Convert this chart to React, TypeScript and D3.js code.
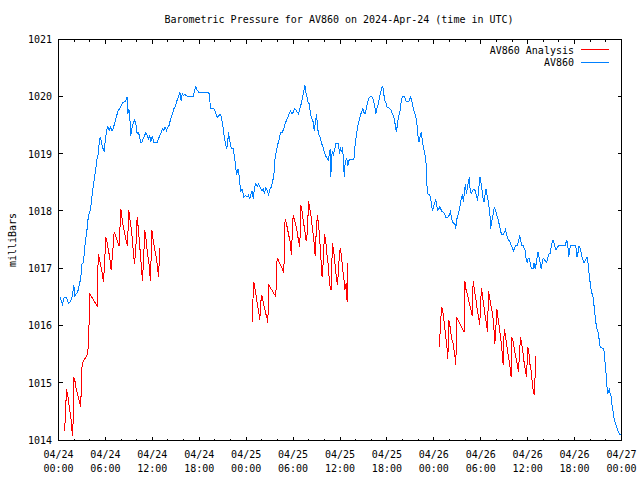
import React from 'react';
import * as d3 from 'd3';

// Hours since 2024-04-24 00:00 UTC, pressure in millibars
const av860: [number, number][] = [
  [0.21,1016.50],[0.51,1016.38],[0.72,1016.49],[1.02,1016.49],[1.28,1016.40],[1.49,1016.42],[1.71,1016.49],[1.88,1016.62],[1.96,1016.71],[2.09,1016.53],[2.26,1016.56],[2.43,1016.59],[2.56,1016.65],[2.73,1016.76],[2.86,1016.85],[2.98,1017.08],[3.20,1017.11],[3.32,1017.32],[3.45,1017.49],[3.62,1017.64],
  [3.75,1017.84],[3.92,1017.96],[4.09,1018.04],[4.22,1018.19],[4.39,1018.39],[4.56,1018.54],[4.73,1018.71],[4.90,1018.89],[5.07,1019.00],[5.20,1019.18],[5.33,1019.29],[5.46,1019.24],[5.58,1019.15],[5.71,1019.09],[5.84,1019.06],[5.92,1019.18],[6.01,1019.24],[6.14,1019.41],[6.31,1019.48],[6.48,1019.41],[6.65,1019.47],[6.82,1019.41],[6.99,1019.44],[7.16,1019.53],[7.33,1019.61],[7.50,1019.70],[7.67,1019.77],[7.84,1019.79],[8.01,1019.85],[8.18,1019.89],[8.35,1019.91],[8.53,1019.92],[8.70,1019.96],[8.78,1020.00],[8.87,1019.70],[9.00,1019.79],[9.12,1019.64],[9.25,1019.32],[9.38,1019.44],[9.55,1019.53],[9.72,1019.59],[9.89,1019.53],[10.06,1019.35],[10.19,1019.38],[10.36,1019.32],[10.48,1019.21],[10.66,1019.21],[10.83,1019.27],[11.00,1019.32],[11.17,1019.38],[11.34,1019.32],[11.51,1019.27],[11.68,1019.32],[11.81,1019.21],[11.98,1019.32],[12.19,1019.21],[12.62,1019.21],[12.79,1019.27],[12.96,1019.32],[13.13,1019.38],[13.30,1019.44],[13.47,1019.41],[13.64,1019.47],[13.81,1019.41],[13.98,1019.47],[14.15,1019.50],[14.24,1019.56],[14.41,1019.64],[14.58,1019.70],[14.75,1019.79],[14.92,1019.83],[15.09,1019.91],[15.22,1019.96],[15.39,1020.02],[15.52,1020.08],[15.69,1019.93],[15.82,1020.06],[15.99,1020.02],[16.16,1020.05],[16.33,1020.02],[16.54,1020.00],[17.22,1020.00],[17.39,1020.11],[17.56,1020.18],[17.73,1020.12],[17.95,1020.08],[19.23,1020.08],[19.36,1019.93],[19.44,1019.79],[19.87,1019.79],[20.08,1019.73],[20.29,1019.64],[20.50,1019.67],[20.67,1019.70],[20.84,1019.64],[20.97,1019.53],[21.10,1019.41],[21.23,1019.27],[21.36,1019.18],[21.48,1019.09],[21.61,1019.15],[21.74,1019.38],[21.87,1019.27],
  [22.00,1019.15],[22.13,1019.09],[22.34,1019.09],[22.51,1018.95],[22.64,1018.80],[22.77,1018.63],[22.94,1018.74],[23.07,1018.66],[23.19,1018.48],[23.32,1018.36],[23.45,1018.39],[23.58,1018.33],[23.71,1018.25],[23.92,1018.28],[24.13,1018.25],[24.30,1018.28],[24.47,1018.22],[24.64,1018.31],[24.77,1018.36],[24.90,1018.22],[25.07,1018.42],[25.24,1018.48],[25.41,1018.43],[25.58,1018.48],[25.75,1018.43],[25.88,1018.39],[26.01,1018.36],[26.18,1018.39],[26.35,1018.31],[26.52,1018.42],[26.69,1018.36],[26.86,1018.29],[27.03,1018.39],[27.20,1018.42],[27.37,1018.51],[27.54,1018.63],[27.67,1018.89],[27.84,1019.03],[28.01,1019.15],[28.18,1019.24],[28.31,1019.32],[28.44,1019.38],[28.61,1019.38],[28.82,1019.44],[28.99,1019.53],[29.16,1019.59],[29.33,1019.64],[29.50,1019.70],[29.67,1019.75],[29.84,1019.70],[30.01,1019.73],[30.18,1019.79],[30.35,1019.77],[30.52,1019.73],[30.70,1019.70],[30.87,1019.79],[30.99,1019.85],[31.12,1019.93],[31.25,1020.02],[31.38,1020.11],[31.51,1020.20],[31.63,1020.08],[31.76,1020.02],[31.89,1019.91],[32.06,1019.88],[32.23,1019.70],[32.40,1019.62],[32.57,1019.56],[32.70,1019.41],[32.87,1019.56],[33.00,1019.70],[33.13,1019.47],[33.25,1019.35],[33.38,1019.32],[33.51,1019.27],[33.64,1019.18],[33.77,1019.15],[33.89,1019.09],[34.02,1019.03],[34.15,1018.97],[34.28,1018.95],[34.40,1018.92],[34.53,1018.89],[34.66,1019.03],[34.75,1019.09],[34.83,1018.60],[34.92,1018.95],[35.04,1019.06],[35.17,1019.00],[35.30,1019.06],[35.47,1019.19],[35.81,1019.19],[35.94,1019.00],[36.07,1019.12],[36.19,1019.03],[36.32,1019.12],[36.45,1018.89],[36.54,1018.60],[36.62,1018.80],[36.75,1018.89],[36.88,1018.92],[37.00,1018.80],[37.13,1018.89],[37.26,1018.90],[37.77,1018.90],[37.90,1019.12],[38.03,1019.27],[38.16,1019.38],[38.28,1019.50],[38.41,1019.56],[38.54,1019.64],[38.67,1019.70],[38.79,1019.75],[38.92,1019.79],[39.05,1019.73],[39.18,1019.70],[39.31,1019.76],[39.43,1019.85],[39.56,1019.92],[39.73,1019.99],[39.90,1020.00],[40.07,1020.00],[40.24,1019.95],[40.37,1019.88],[40.50,1019.79],[40.58,1019.70],[40.71,1019.79],[40.84,1019.85],[40.97,1019.93],[41.10,1020.02],[41.22,1020.08],[41.35,1020.16],[41.48,1020.18],[41.57,1020.08],[41.65,1020.00],[41.78,1019.91],[41.91,1019.88],[42.03,1019.82],[42.20,1019.82],[42.37,1019.79],[42.55,1019.76],[42.72,1019.70],[42.89,1019.64],[43.01,1019.56],[43.10,1019.47],[43.23,1019.38],[43.36,1019.56],[43.48,1019.64],[43.65,1019.73],
  [43.86,1019.96],[43.99,1020.00],[44.24,1020.00],[44.37,1019.96],[44.50,1019.91],[44.75,1019.91],[44.92,1019.96],[45.05,1020.00],[45.18,1019.93],[45.31,1019.85],[45.43,1019.76],[45.61,1019.70],[45.73,1019.62],[45.86,1019.50],[45.99,1019.29],[46.12,1019.21],[46.25,1019.32],[46.37,1019.38],[46.50,1019.27],[46.63,1019.15],[46.76,1019.06],[46.88,1018.97],[47.01,1018.83],[47.10,1018.48],[47.23,1018.31],[47.48,1018.28],[47.61,1018.22],[47.74,1018.07],[47.86,1018.02],[47.99,1018.10],[48.12,1018.16],[48.25,1018.20],[48.38,1018.10],[48.51,1018.02],[48.63,1018.04],[48.76,1018.08],[48.89,1018.04],[49.02,1018.00],[49.19,1017.99],[49.36,1017.96],[49.53,1017.90],[49.78,1017.90],[49.95,1017.93],[50.12,1017.99],[50.25,1017.90],[50.38,1017.81],[50.55,1017.79],[50.72,1017.77],[50.81,1017.70],[50.89,1017.84],[51.02,1017.90],[51.15,1017.96],[51.27,1018.04],[51.40,1018.14],[51.53,1018.24],[51.66,1018.28],[51.79,1018.16],[51.91,1018.36],[52.04,1018.48],[52.17,1018.31],[52.30,1018.42],[52.43,1018.51],[52.56,1018.60],[52.64,1018.38],[52.77,1018.31],[52.94,1018.36],[53.11,1018.39],[53.28,1018.36],[53.45,1018.28],[53.58,1018.19],[53.70,1018.31],[53.83,1018.54],[53.92,1018.60],[54.05,1018.48],[54.17,1018.36],[54.30,1018.22],[54.43,1018.16],[54.56,1018.31],[54.68,1018.39],[54.81,1018.28],[54.94,1018.19],[55.07,1018.07],[55.20,1017.90],[55.28,1017.70],[55.37,1017.81],[55.49,1017.87],[55.62,1017.99],[55.75,1018.08],[55.88,1018.02],[56.01,1017.96],[56.13,1017.90],[56.26,1017.84],[56.39,1017.75],[56.52,1017.67],[56.65,1017.60],[56.86,1017.60],[57.03,1017.64],[57.16,1017.68],[57.29,1017.61],[57.41,1017.55],[57.54,1017.50],[57.67,1017.50],[57.80,1017.43],[57.93,1017.40],[58.05,1017.35],[58.18,1017.31],[58.31,1017.35],[58.44,1017.40],[58.65,1017.40],[58.86,1017.49],[58.99,1017.58],[59.12,1017.49],[59.25,1017.40],[59.42,1017.40],[59.55,1017.35],[59.67,1017.32],[59.80,1017.17],[59.93,1017.11],[60.06,1017.17],[60.23,1017.17],[60.35,1017.08],[60.48,1017.00],[60.70,1017.00],[60.82,1017.10],[60.95,1017.00],[61.08,1017.08],[61.21,1017.20],[61.33,1017.29],[61.46,1017.20],[61.59,1017.11],[61.72,1017.00],[61.85,1017.10],[61.97,1017.17],[62.10,1017.17],[62.23,1017.14],[62.36,1017.11],[62.49,1017.14],[62.61,1017.20],[62.74,1017.26],[62.87,1017.26],[63.00,1017.37],[63.13,1017.46],[63.25,1017.50],[63.38,1017.44],[63.51,1017.37],[63.64,1017.33],[63.76,1017.36],[63.93,1017.40],[64.79,1017.40],[64.91,1017.46],[65.00,1017.50],[65.13,1017.40],[65.26,1017.20],[65.38,1017.35],[65.51,1017.40],[66.07,1017.40],[66.19,1017.35],[66.32,1017.20],[66.45,1017.29],[66.58,1017.40],[66.71,1017.35],[66.83,1017.29],[66.96,1017.20],[67.09,1017.14],[67.22,1017.10],[67.34,1017.14],[67.47,1017.17],[67.60,1017.20],[67.73,1017.08],[67.86,1016.91],
  [68.03,1016.71],[68.16,1016.59],[68.33,1016.53],[68.46,1016.39],[68.59,1016.21],[68.71,1016.07],[68.84,1015.95],[68.97,1015.92],[69.10,1015.81],[69.23,1015.66],[69.35,1015.63],[69.74,1015.60],[69.82,1015.49],[69.95,1015.28],[70.08,1015.08],[70.16,1014.90],[70.25,1014.82],[70.33,1014.87],[70.46,1014.90],[70.55,1014.82],[70.68,1014.76],[70.80,1014.61],[70.93,1014.50],[71.06,1014.38],[71.19,1014.32],[71.31,1014.26],[71.44,1014.21],[71.61,1014.15],[71.78,1014.11],[71.95,1014.11],
];

const analysisRun1: [number, number][] = [
  [0.77,1014.16],[0.85,1014.34],[1.02,1014.89],[1.15,1014.82],[1.28,1014.70],[1.41,1014.53],[1.58,1014.42],[1.71,1014.18],[1.83,1014.08],[1.96,1015.11],[2.13,1015.02],[2.26,1014.90],[2.43,1014.82],[2.64,1014.70],[2.86,1014.58],[2.90,1014.96],[3.03,1015.35],[3.75,1015.51],[3.92,1016.07],[3.96,1016.58],[4.26,1016.50],[4.94,1016.35],[5.03,1016.81],[5.07,1017.26],[5.20,1017.20],[5.37,1017.06],[5.54,1016.97],[5.75,1016.77],[5.88,1017.06],[6.05,1017.55],[6.22,1017.46],[6.39,1017.32],[6.61,1017.14],[6.73,1016.97],[6.95,1017.32],[7.12,1017.64],[7.33,1017.56],[7.54,1017.48],[7.76,1017.39],[7.97,1018.04],[8.14,1017.87],[8.31,1017.71],[8.48,1017.61],[8.65,1017.49],[8.82,1017.40],[8.99,1018.02],[9.16,1017.84],[9.38,1017.61],[9.55,1017.32],[9.72,1017.08],[9.89,1017.35],[10.06,1017.90],[10.23,1017.67],[10.40,1017.38],[10.57,1017.08],[10.74,1016.79],[10.91,1017.26],[11.04,1017.67],[11.21,1017.49],[11.38,1017.26],[11.59,1017.06],[11.76,1016.79],[11.94,1017.67],[12.11,1017.49],[12.32,1017.32],[12.49,1017.20],[12.66,1017.03],[12.79,1016.85],[12.96,1017.36],
];

const analysisRun2: [number, number][] = [
  [24.85,1016.06],[24.85,1016.41],[24.98,1016.76],[25.10,1016.68],[25.23,1016.56],[25.36,1016.45],[25.49,1016.33],[25.61,1016.24],[25.74,1016.10],[25.87,1016.42],[26.00,1016.53],[26.13,1016.45],[26.25,1016.36],[26.38,1016.30],[26.51,1016.21],[26.64,1016.16],[26.77,1016.06],[26.89,1016.71],[27.32,1016.62],[27.79,1016.51],[27.87,1016.85],[27.96,1017.19],[28.17,1017.13],[28.51,1017.03],[28.81,1016.93],[28.90,1017.41],[28.98,1017.87],[29.11,1017.81],[29.28,1017.70],[29.45,1017.58],[29.62,1017.47],[29.79,1017.24],[29.92,1017.70],[30.01,1017.94],[30.18,1017.84],[30.35,1017.76],[30.52,1017.64],[30.69,1017.49],[30.86,1017.38],[30.99,1018.11],[31.16,1017.99],[31.33,1017.81],[31.50,1017.67],[31.67,1017.49],[31.84,1017.64],[31.97,1018.18],[32.14,1018.05],[32.31,1017.90],[32.48,1017.70],[32.65,1017.52],[32.82,1017.22],[32.99,1017.73],[33.12,1017.93],[33.25,1017.79],[33.37,1017.58],[33.54,1017.23],[33.71,1016.85],[33.88,1017.17],[34.01,1017.61],[34.18,1017.47],[34.35,1017.23],[34.52,1017.03],[34.65,1016.74],[34.86,1016.62],[34.95,1017.06],[35.04,1017.44],[35.21,1017.29],[35.38,1017.06],[35.55,1016.83],[35.68,1016.71],[35.89,1017.17],[36.02,1017.36],[36.19,1017.23],[36.32,1017.00],[36.49,1016.85],[36.61,1016.62],[36.78,1016.74],[36.91,1016.42],[37.00,1017.09],
];

const analysisRun3: [number, number][] = [
  [48.77,1015.63],[48.77,1015.80],[48.90,1016.15],[49.02,1016.33],[49.15,1016.24],[49.28,1016.12],[49.41,1015.95],[49.53,1015.80],[49.66,1015.66],[49.79,1015.43],[49.92,1016.11],[50.05,1016.01],[50.17,1015.89],[50.30,1015.77],[50.43,1015.72],[50.56,1015.60],[50.69,1015.48],[50.81,1015.32],[50.94,1016.15],[51.45,1016.01],[51.88,1015.89],[51.88,1016.33],[51.96,1016.79],[52.09,1016.65],[52.26,1016.56],[52.43,1016.47],[52.60,1016.36],[52.77,1016.27],[52.90,1016.18],[53.03,1016.79],[53.20,1016.62],[53.37,1016.47],[53.54,1016.30],[53.71,1016.15],[53.88,1016.02],[53.96,1016.36],[54.09,1016.66],[54.22,1016.53],[54.39,1016.36],[54.56,1016.18],[54.74,1016.04],[54.86,1015.89],[54.99,1016.60],[55.12,1016.50],[55.29,1016.36],[55.46,1016.24],[55.63,1016.07],[55.80,1015.69],[55.93,1015.95],[56.06,1016.30],[56.23,1016.12],[56.40,1015.95],[56.57,1015.77],[56.74,1015.54],[56.87,1015.32],[57.00,1015.95],[57.17,1015.83],[57.29,1015.69],[57.42,1015.57],[57.59,1015.43],[57.72,1015.31],[57.89,1015.11],[57.98,1015.80],[58.15,1015.72],[58.32,1015.57],[58.49,1015.45],[58.66,1015.34],[58.83,1015.20],[58.96,1015.54],[59.09,1015.80],[59.21,1015.72],[59.34,1015.60],[59.51,1015.40],[59.68,1015.25],[59.85,1015.11],[60.02,1015.63],[60.15,1015.54],[60.28,1015.34],[60.45,1015.22],[60.58,1015.01],[60.71,1014.87],[60.84,1014.79],[60.97,1015.19],[61.06,1015.47],
];

const yTicks = [1014, 1015, 1016, 1017, 1018, 1019, 1020, 1021];
const titleText = 'Barometric Pressure for AV860 on 2024-Apr-24 (time in UTC)';
const yLabel = 'milliBars';
const legendNames = ['AV860 Analysis', 'AV860'];
const seriesColors = ['#ff0000', '#0080ff'];

const START = Date.UTC(2024, 3, 24, 0, 0);
const END = Date.UTC(2024, 3, 27, 0, 0);
const toDate = (h: number) => new Date(START + h * 3600000);

const FONT = '"DejaVu Sans Mono", "Liberation Mono", monospace';

export default function App() {
  const L = 58.5, R = 621.5, T = 39.5, B = 440.5;
  const x = d3.scaleUtc().domain([new Date(START), new Date(END)]).range([L, R]);
  const y = d3.scaleLinear().domain([1014, 1021]).range([B, T]);
  const line = d3.line<[number, number]>().x(d => x(toDate(d[0]))).y(d => y(d[1]));

  const majors = d3.utcHour.every(6)!.range(new Date(START), new Date(END + 1));
  const minors = d3.utcHour.every(2)!.range(new Date(START), new Date(END + 1)).filter(d => d.getUTCHours() % 6 !== 0);
  const fmtDate = d3.utcFormat('%m/%d');
  const fmtTime = d3.utcFormat('%H:%M');

  return (
    <svg width={640} height={480} style={{ position: 'absolute', left: 0, top: 0, background: '#fff' }} fontFamily={FONT} fontSize={10}>
      <rect x={0} y={0} width={640} height={480} fill="#fff" />
      <text x={339} y={23} textAnchor="middle">{titleText}</text>
      <text transform={`translate(16,${(T + B) / 2}) rotate(-90)`} textAnchor="middle">{yLabel}</text>

      <g stroke="#000" strokeWidth={1} shapeRendering="crispEdges">
        {yTicks.map(v => (
          <g key={v}>
            <line x1={L} x2={L + 4} y1={Math.round(y(v)) - 0.5} y2={Math.round(y(v)) - 0.5} />
            <line x1={R} x2={R - 4} y1={Math.round(y(v)) - 0.5} y2={Math.round(y(v)) - 0.5} />
          </g>
        ))}
        {majors.map(d => (
          <g key={+d}>
            <line x1={x(d)} x2={x(d)} y1={B} y2={B - 4} />
            <line x1={x(d)} x2={x(d)} y1={T} y2={T + 4} />
          </g>
        ))}
        {minors.map(d => (
          <g key={+d}>
            <line x1={x(d)} x2={x(d)} y1={B} y2={B - 2} />
            <line x1={x(d)} x2={x(d)} y1={T} y2={T + 2} />
          </g>
        ))}
      </g>

      {yTicks.map(v => (
        <text key={v} x={52} y={y(v) + 3.5} textAnchor="end">{v}</text>
      ))}
      {majors.map(d => (
        <g key={+d}>
          <text x={x(d)} y={458} textAnchor="middle">{fmtDate(d)}</text>
          <text x={x(d)} y={472} textAnchor="middle">{fmtTime(d)}</text>
        </g>
      ))}

      <g fill="none" strokeWidth={1} shapeRendering="crispEdges">
        {[analysisRun1, analysisRun2, analysisRun3].map((run, i) => (
          <path key={i} d={line(run) || ''} stroke={seriesColors[0]} />
        ))}
        <path d={line(av860) || ''} stroke={seriesColors[1]} />
      </g>

      <rect x={L} y={T} width={R - L} height={B - T} fill="none" stroke="#000" strokeWidth={1} shapeRendering="crispEdges" />

      {legendNames.map((name, i) => (
        <g key={name}>
          <text x={574} y={53.5 + i * 12.5} textAnchor="end">{name}</text>
          <line x1={581} x2={609} y1={49.5 + i * 12.5} y2={49.5 + i * 12.5} stroke={seriesColors[i]} strokeWidth={1} shapeRendering="crispEdges" />
        </g>
      ))}
    </svg>
  );
}
